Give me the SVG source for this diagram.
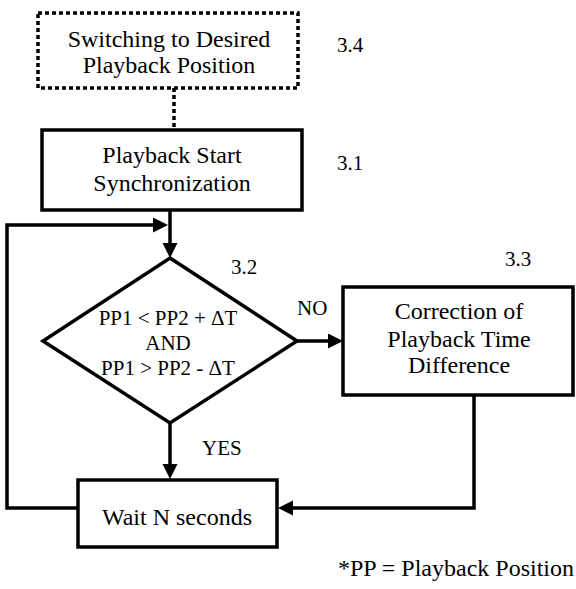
<svg xmlns="http://www.w3.org/2000/svg" width="576" height="589" viewBox="0 0 576 589" font-family="'Times New Roman', 'Liberation Serif', serif">
<defs>
<marker id="arr" markerUnits="userSpaceOnUse" markerWidth="16" markerHeight="16" refX="0" refY="7.5" orient="auto">
<path d="M0,0 L15,7.5 L0,15 z" fill="#000"/>
</marker>
</defs>
<rect width="576" height="589" fill="#fff"/>
<g id="connectors" fill="none" stroke="#000" stroke-width="3.5">
<path d="M174 88 V130" stroke-dasharray="4 3"/>
<path d="M170 210 V243" marker-end="url(#arr)"/>
<path d="M78 508 H7 V225 H153" marker-end="url(#arr)"/>
<path d="M297 341 H328" marker-end="url(#arr)"/>
<path d="M170 423 V464" marker-end="url(#arr)"/>
<path d="M474 395 V508 H293" marker-end="url(#arr)"/>
</g>
<g id="n34">
<rect x="38" y="13" width="260" height="75" fill="#fff" stroke="#000" stroke-width="3.5" stroke-dasharray="4 3"/>
<text x="169" y="47" font-family="Times New Roman" font-size="24" text-anchor="middle">Switching to Desired</text>
<text x="169" y="73" font-family="Times New Roman" font-size="24" text-anchor="middle">Playback Position</text>
<text x="337" y="52" font-family="Times New Roman" font-size="21">3.4</text>
</g>
<g id="n31">
<rect x="42" y="130" width="260" height="80" fill="#fff" stroke="#000" stroke-width="3.5"/>
<text x="172" y="163" font-family="Times New Roman" font-size="24" text-anchor="middle">Playback Start</text>
<text x="172" y="191" font-family="Times New Roman" font-size="24" text-anchor="middle">Synchronization</text>
<text x="337" y="170" font-family="Times New Roman" font-size="21">3.1</text>
</g>
<g id="n32">
<path d="M170 258 L297 341 L170 423 L43 341 Z" fill="#fff" stroke="#000" stroke-width="3.5"/>
<text x="168" y="325" font-family="Times New Roman" font-size="21" text-anchor="middle">PP1 &lt; PP2 + &#916;T</text>
<text x="168" y="350" font-family="Times New Roman" font-size="21" text-anchor="middle">AND</text>
<text x="168" y="375" font-family="Times New Roman" font-size="21" text-anchor="middle">PP1 &gt; PP2 - &#916;T</text>
<text x="231" y="274" font-family="Times New Roman" font-size="21">3.2</text>
</g>
<g id="n33">
<rect x="343" y="287" width="230" height="108" fill="#fff" stroke="#000" stroke-width="3.5"/>
<text x="459" y="319" font-family="Times New Roman" font-size="24" text-anchor="middle">Correction of</text>
<text x="459" y="347" font-family="Times New Roman" font-size="24" text-anchor="middle">Playback Time</text>
<text x="459" y="373" font-family="Times New Roman" font-size="24" text-anchor="middle">Difference</text>
<text x="505" y="266" font-family="Times New Roman" font-size="21">3.3</text>
</g>
<g id="wait">
<rect x="78" y="480" width="199" height="67" fill="#fff" stroke="#000" stroke-width="3.5"/>
<text x="177" y="525" font-family="Times New Roman" font-size="24" text-anchor="middle">Wait N seconds</text>
</g>
<g id="labels">
<text x="297" y="315" font-family="Times New Roman" font-size="21">NO</text>
<text x="202" y="455" font-family="Times New Roman" font-size="21">YES</text>
<text x="338" y="576" font-family="Times New Roman" font-size="24">*PP = Playback Position</text>
</g>
</svg>
